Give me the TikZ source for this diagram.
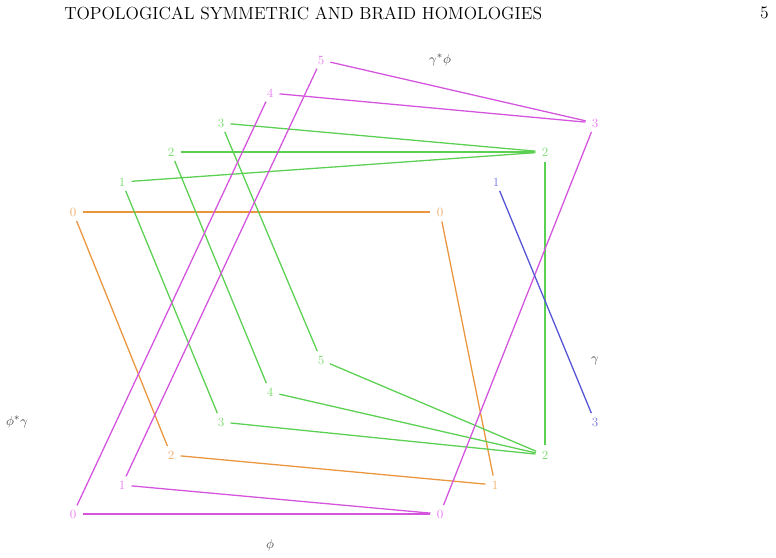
\documentclass[tikz,border=0pt]{standalone}
\usetikzlibrary{calc}
\definecolor{magL}{RGB}{212,84,222}
\definecolor{magT}{RGB}{232,130,240}
\definecolor{orgL}{RGB}{234,150,62}
\definecolor{orgT}{RGB}{240,175,110}
\definecolor{grnL}{RGB}{92,208,82}
\definecolor{grnT}{RGB}{125,220,115}
\definecolor{bluL}{RGB}{84,84,214}
\definecolor{bluT}{RGB}{125,125,225}
\definecolor{lblT}{RGB}{70,70,70}
\tikzset{
  pt/.style={circle,inner sep=0pt,minimum size=13pt,font=\fontsize{8.8}{10}\selectfont},
  mag/.style={pt,text=magT}, org/.style={pt,text=orgT}, grn/.style={pt,text=grnT}, blu/.style={pt,text=bluT},
  ml/.style={draw=magL,line width=0.9pt}, ol/.style={draw=orgL,line width=0.9pt},
  gl/.style={draw=grnL,line width=0.9pt}, bl/.style={draw=bluL,line width=0.9pt},
  lab/.style={text=lblT,font=\fontsize{9.5}{11}\selectfont,inner sep=0pt}
}
\begin{document}
\begin{tikzpicture}[x=0.7pt,y=-0.7pt]
\useasboundingbox (0,0) rectangle (776,558);
\node[anchor=west,inner sep=0pt,font=\fontsize{12.25}{14}\selectfont] (head) at (64,13) {TOPOLOGICAL SYMMETRIC AND BRAID HOMOLOGIES};
\node[anchor=east,inner sep=0pt,font=\fontsize{12.25}{14}\selectfont] (pg) at (769,13) {5};
% top-left column
\node[mag] (m5) at (321,60) {5};
\node[mag] (m4) at (270,93) {4};
\node[grn] (g3t) at (221,123) {3};
\node[grn] (g2t) at (171,152) {2};
\node[grn] (g1t) at (122,182) {1};
\node[org] (o0t) at (73,212) {0};
% top-right
\node[mag] (m3r) at (595,123) {3};
\node[grn] (g2r) at (545,152) {2};
\node[blu] (b1) at (496,182) {1};
\node[org] (o0r) at (440,212) {0};
% bottom-left
\node[grn] (g5b) at (321,360) {5};
\node[grn] (g4b) at (270,392) {4};
\node[grn] (g3b) at (221,422) {3};
\node[org] (o2b) at (171,455) {2};
\node[mag] (m1b) at (122,485) {1};
\node[mag] (m0b) at (73,514) {0};
% bottom-right
\node[grn] (g2br) at (545,455) {2};
\node[org] (o1br) at (495,485) {1};
\node[mag] (m0br) at (440,514) {0};
\node[blu] (b3) at (595,422) {3};
% labels
\node[lab] (gp) at (440,60) {$\gamma^*\phi$};
\node[lab] (g) at (595,361) {$\gamma$};
\node[lab] (pg2) at (17,422) {$\phi^*\gamma$};
\node[lab] (p) at (270,545) {$\phi$};
% orange
\draw[ol] (o0t) -- (o0r);
\draw[ol] (o0t) -- (o2b);
\draw[ol] (o0r) -- (o1br);
\draw[ol] (o2b) -- (o1br);
% green
\draw[gl] (g3t) -- (g2r);
\draw[gl] (g2t) -- (g2r);
\draw[gl] (g1t) -- (g2r);
\draw[gl] (g1t) -- (g3b);
\draw[gl] (g2t) -- (g4b);
\draw[gl] (g3t) -- (g5b);
\draw[gl] (g5b) -- (g2br);
\draw[gl] (g4b) -- (g2br);
\draw[gl] (g3b) -- (g2br);
\draw[gl] (g2r) -- (g2br);
% magenta
\draw[ml] (m5) -- (m3r);
\draw[ml] (m4) -- (m3r);
\draw[ml] (m5) -- (m1b);
\draw[ml] (m4) -- (m0b);
\draw[ml] (m3r) -- (m0br);
\draw[ml] (m1b) -- (m0br);
\draw[ml] (m0b) -- (m0br);
% blue
\draw[bl] (b1) -- (b3);
\end{tikzpicture}
\end{document}
